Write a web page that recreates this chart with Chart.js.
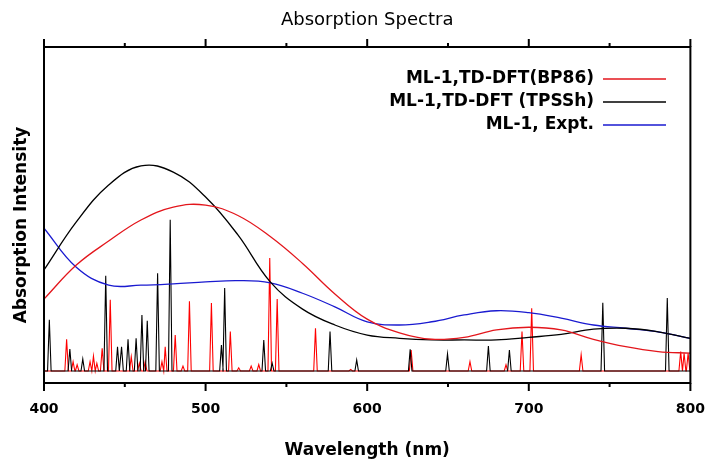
<!DOCTYPE html>
<html>
<head>
<meta charset="utf-8">
<script src="https://cdn.jsdelivr.net/npm/chart.js@4"></script>
<style>
  body { margin: 0; background: #fff; }
  #wrap { width: 715px; height: 466px; }
</style>
</head>
<body>
<div id="wrap"><canvas id="myChart" width="715" height="466"></canvas></div>
<script>
// broad spectra, read every 20 nm
let wave = [400,420,440,460,480,500,520,540,560,580,600,620,640,660,680,700,720,740,760,780,800];
let bp86 = [22.2,32.7,40.1,46.6,50.6,51.2,48,41.5,33.2,23.8,16,11.8,9.8,10.4,12.7,13.5,12.7,9.8,7.5,6,5.5];
let tpssh = [31.2,46,57.4,63.3,61.4,53.7,42,27.5,19.1,14.2,11.1,10.1,9.6,9.6,9.6,10.4,11.3,12.9,13.2,12.1,10.1];
let expt = [44.1,32,26.5,26.5,26.9,27.5,27.9,27.2,24,19.8,15.2,14.2,15.2,17.3,18.6,18,16.3,14.2,13.2,12.1,10.1];

// stick transitions (nm, intensity)
let tpsshSticks = [403.3,416,424,438.2,445.5,448,452,457,460.6,463.9,470.3,478.1,509.8,511.8,536,541.2,577,593.5,626.6,649.7,675,688,745.8,785.7];
let tpsshHeights = [15.8,6.8,3.7,29.4,7.5,7.5,9.8,10.1,17.3,15.5,30.2,46.7,8,25.6,9.6,2.4,12.2,3.4,6.7,5.3,7.7,6.5,21.1,22.5];
let bp86Sticks = [414,418,420.5,428.5,430.6,432.7,436,441,454,459,462.6,473,475,481.2,486,490,503.6,515.3,520.5,528.2,532.9,539.7,544.3,568,589.8,627.2,663.6,685.9,695.8,701.8,732.4,794,796.1,798.6];
let bp86Heights = [9.8,2.9,1.9,2.9,4.6,2.4,7.0,22,4.4,2.4,2.9,2.9,7.5,11.1,1.5,21.5,21,12.2,1,1.5,2,34.9,22.2,13.2,0.5,6.5,2.9,1.9,12.2,19.4,5,6,5.5,5.5];

let chartTitle = "Absorption Spectra";
let yTitle = "Absorption Intensity";
let legendNames = ["ML-1,TD-DFT(BP86)","ML-1,TD-DFT (TPSSh)","ML-1, Expt."];
let legendColors = ["#e3161c","#000000","#1a1ad0"];

function curve(ys){
  return wave.map((w,i) => ({x: w, y: ys[i]}));
}

function sticks(pos, h){
  let pts = [{x: 400, y: 0}];
  pos.forEach((p,i) => {
    pts.push({x: p - 1.1, y: 0});
    pts.push({x: p, y: h[i]});
    pts.push({x: p + 1.1, y: 0});
  });
  pts.push({x: 800, y: 0});
  return pts;
}

const framePlugin = {
  id: "frame",
  afterDatasetsDraw(chart){
    const c = chart.ctx;
    const a = chart.chartArea;
    const xs = chart.scales.x;
    c.save();
    c.strokeStyle = "#000";
    c.lineWidth = 2;
    c.strokeRect(a.left, a.top, a.right - a.left, a.bottom - a.top);
    for (let v = 400; v <= 800; v += 50){
      let px = xs.getPixelForValue(v);
      let len = v % 100 == 0 ? 8 : 4;
      c.beginPath();
      c.moveTo(px, a.bottom); c.lineTo(px, a.bottom + len);
      c.moveTo(px, a.top); c.lineTo(px, a.top - len);
      c.stroke();
    }
    // title
    c.fillStyle = "#000";
    c.font = "18px 'DejaVu Sans'";
    c.textAlign = "center";
    c.textBaseline = "middle";
    c.fillText(chartTitle, (a.left + a.right) / 2, 20);
    // y axis title
    c.save();
    c.translate(22, 225);
    c.rotate(-Math.PI / 2);
    c.font = "bold 17px 'DejaVu Sans'";
    c.fillText(yTitle, 0, 0);
    c.restore();
    // legend
    c.font = "bold 17px 'DejaVu Sans'";
    c.textAlign = "right";
    let rows = [79, 102, 125];
    legendNames.forEach((n,i) => {
      c.fillStyle = "#000";
      c.fillText(n, 594, rows[i]);
      c.strokeStyle = legendColors[i];
      c.lineWidth = 1.3;
      c.beginPath();
      c.moveTo(603, rows[i]); c.lineTo(666, rows[i]);
      c.stroke();
    });
    c.restore();
  }
};

const ctx = document.getElementById("myChart");
new Chart(ctx, {
  type: "line",
  data: {
    datasets: [
      {data: curve(bp86), borderColor: legendColors[0], borderWidth: 1.3, tension: 0.4},
      {data: curve(tpssh), borderColor: legendColors[1], borderWidth: 1.3, tension: 0.4},
      {data: curve(expt), borderColor: legendColors[2], borderWidth: 1.3, tension: 0.4},
      {data: sticks(tpsshSticks, tpsshHeights), borderColor: "#000000", borderWidth: 1.1, tension: 0},
      {data: sticks(bp86Sticks, bp86Heights), borderColor: "#ff0000", borderWidth: 1.1, tension: 0}
    ]
  },
  options: {
    responsive: false,
    animation: false,
    elements: { point: { radius: 0 } },
    layout: { padding: { top: 47, right: 20 } },
    plugins: {
      legend: { display: false },
      tooltip: { enabled: false },
      title: { display: false }
    },
    scales: {
      x: {
        type: "linear",
        min: 400,
        max: 800,
        grid: { display: false },
        border: { display: false },
        ticks: { stepSize: 100, color: "#000", padding: 10, font: { family: "'DejaVu Sans'", size: 14, weight: "bold" } },
        title: { display: true, text: "Wavelength (nm)", color: "#000", padding: { top: 0, bottom: 5 }, font: { family: "'DejaVu Sans'", size: 17, weight: "bold" } },
        afterFit(s){ s.height = 83; }
      },
      y: {
        min: -3.7,
        max: 100,
        grid: { display: false },
        border: { display: false },
        ticks: { display: false },
        title: { display: false },
        afterFit(s){ s.width = 44; }
      }
    }
  },
  plugins: [framePlugin]
});
</script>
</body>
</html>
